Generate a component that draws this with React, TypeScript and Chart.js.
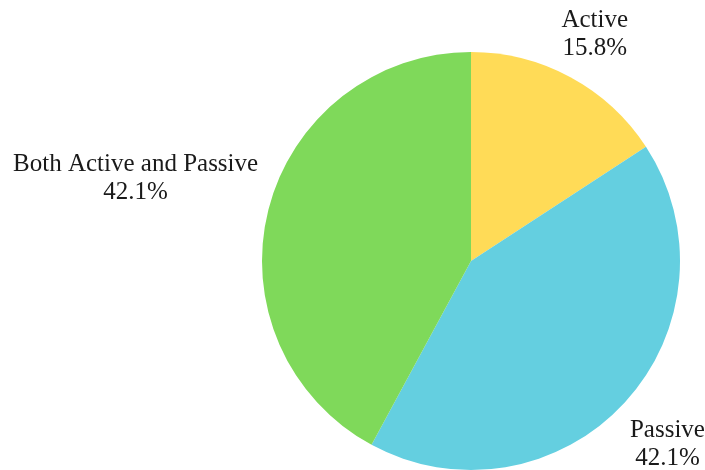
import React, { useEffect, useRef } from "react";
import { Chart, registerables } from "chart.js";

Chart.register(...registerables);

const categories = ["Active", "Passive", "Both Active and Passive"];
const counts = [3, 8, 8];
const percentLabels = ["15.8%", "42.1%", "42.1%"];
const colors = ["#FFDB57", "#64CFE0", "#7FD95A"];

const FONT = '25px "Liberation Serif", "Times New Roman", serif';
const LINE_H = 28;
const GAP = 11;
const TEXT_DY = 2.5;

const outsideLabels = {
  id: "outsideLabels",
  afterDraw(chart: any) {
    const ctx = chart.ctx as CanvasRenderingContext2D;
    const meta = chart.getDatasetMeta(0);
    ctx.save();
    ctx.font = FONT;
    ctx.fillStyle = "#1a1a1a";
    ctx.textAlign = "center";
    ctx.textBaseline = "middle";
    meta.data.forEach((arc: any, i: number) => {
      const { x, y, startAngle, endAngle, outerRadius } = arc.getProps(
        ["x", "y", "startAngle", "endAngle", "outerRadius"],
        true
      );
      const mid = (startAngle + endAngle) / 2;
      const dx = Math.cos(mid);
      const dy = Math.sin(mid);
      const lines = [categories[i], percentLabels[i]];
      const w = Math.max(...lines.map((l) => ctx.measureText(l).width));
      const h = LINE_H * lines.length;
      let t = outerRadius * 0.5;
      for (; t < outerRadius * 4; t += 0.5) {
        const cx = x + dx * t;
        const cy = y + dy * t;
        const nx = Math.min(Math.max(x, cx - w / 2), cx + w / 2);
        const ny = Math.min(Math.max(y, cy - h / 2), cy + h / 2);
        if (Math.hypot(nx - x, ny - y) >= outerRadius + GAP) break;
      }
      const cx = x + dx * t;
      const cy = y + dy * t + TEXT_DY;
      lines.forEach((l, k) => {
        ctx.fillText(l, cx, cy - h / 2 + LINE_H * (k + 0.5));
      });
    });
    ctx.restore();
  },
};

export default function App() {
  const ref = useRef<HTMLCanvasElement>(null);
  useEffect(() => {
    if (!ref.current) return;
    const chart = new Chart(ref.current, {
      type: "pie",
      data: {
        labels: categories,
        datasets: [
          {
            data: counts,
            backgroundColor: colors,
            borderWidth: 0,
          },
        ],
      },
      options: {
        responsive: false,
        animation: false,
        layout: { padding: { top: 52, bottom: 0, left: 262, right: 25 } },
        plugins: {
          legend: { display: false },
          tooltip: { enabled: false },
        },
      },
      plugins: [outsideLabels],
    });
    return () => chart.destroy();
  }, []);
  return (
    <div style={{ position: "absolute", left: 0, top: 0, width: 705, height: 470, background: "#fff" }}>
      <canvas ref={ref} width={705} height={470} />
    </div>
  );
}
